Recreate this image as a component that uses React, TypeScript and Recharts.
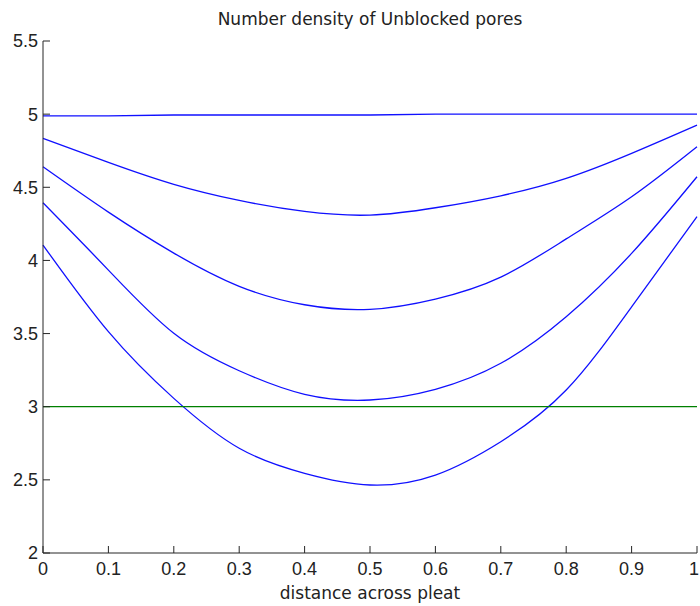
import React from 'react';
import { LineChart, Line, XAxis, YAxis } from 'recharts';

// distance across pleat
const distance = [0, 0.1, 0.2, 0.3, 0.4, 0.5, 0.6, 0.7, 0.8, 0.9, 1];

// number density of unblocked pores, one curve per time level
const level1 = [4.988, 4.988, 4.994, 4.994, 4.994, 4.994, 5.0, 5.0, 5.0, 5.0, 5.0];
const level2 = [4.835, 4.67, 4.52, 4.41, 4.335, 4.31, 4.36, 4.442, 4.561, 4.732, 4.925];
const level3 = [4.64, 4.33, 4.05, 3.823, 3.697, 3.666, 3.736, 3.886, 4.147, 4.435, 4.777];
const level4 = [4.394, 3.934, 3.502, 3.246, 3.085, 3.046, 3.119, 3.297, 3.615, 4.048, 4.572];
const level5 = [4.105, 3.513, 3.057, 2.716, 2.545, 2.465, 2.533, 2.761, 3.114, 3.683, 4.299];
const threshold = [3, 3, 3, 3, 3, 3, 3, 3, 3, 3, 3];

const xTicks = [0, 0.1, 0.2, 0.3, 0.4, 0.5, 0.6, 0.7, 0.8, 0.9, 1];
const yTicks = [2, 2.5, 3, 3.5, 4, 4.5, 5, 5.5];

const data = distance.map((x, i) => ({
  x,
  l1: level1[i],
  l2: level2[i],
  l3: level3[i],
  l4: level4[i],
  l5: level5[i],
  t: threshold[i],
}));

const AXIS = '#262626';
const BLUE = '#1010ff';
const tickFont = { fill: '#222', fontSize: 18, fontFamily: '"Liberation Sans", Arial, sans-serif' };
const textFont = '"DejaVu Sans", sans-serif';

// x tick label; the last one is nudged so it stays inside the page
const XTick = ({ x, y, payload }: any) => {
  const v = payload.value;
  const last = v === xTicks[xTicks.length - 1];
  return (
    <text x={last ? x - 3 : x} y={y} dy="0.71em" textAnchor="middle" {...tickFont}>
      {String(Number(Number(v).toFixed(1)))}
    </text>
  );
};

export default function App() {
  return (
    <div style={{ position: 'absolute', left: 0, top: 0, width: 700, height: 606, background: '#fff' }}>
      <LineChart width={700} height={606} data={data} margin={{ top: 41, right: 3, bottom: 0, left: 0 }}>
        <XAxis
          dataKey="x"
          type="number"
          domain={[0, 1]}
          ticks={xTicks}
          height={53}
          stroke={AXIS}
          tickSize={-7}
          tickMargin={16}
          tick={<XTick />}
          interval={0}
        />
        <YAxis
          type="number"
          domain={[2, 5.5]}
          ticks={yTicks}
          width={43}
          stroke={AXIS}
          tickSize={-7}
          tickMargin={12}
          tick={tickFont}
          interval={0}
        />
        <Line dataKey="l1" type="linear" stroke={BLUE} strokeWidth={1.3} dot={false} isAnimationActive={false} />
        <Line dataKey="l2" type="natural" stroke={BLUE} strokeWidth={1.3} dot={false} isAnimationActive={false} />
        <Line dataKey="l3" type="natural" stroke={BLUE} strokeWidth={1.3} dot={false} isAnimationActive={false} />
        <Line dataKey="l4" type="natural" stroke={BLUE} strokeWidth={1.3} dot={false} isAnimationActive={false} />
        <Line dataKey="l5" type="natural" stroke={BLUE} strokeWidth={1.3} dot={false} isAnimationActive={false} />
        <Line dataKey="t" type="linear" stroke="#008000" strokeWidth={1.3} dot={false} isAnimationActive={false} />
      </LineChart>
      <svg width={700} height={606} style={{ position: 'absolute', left: 0, top: 0, pointerEvents: 'none' }}>
        <text x={370} y={25} textAnchor="middle" fontSize={17} fontFamily={textFont} fill="#222">
          Number density of Unblocked pores
        </text>
        <text x={370} y={599} textAnchor="middle" fontSize={17} fontFamily={textFont} fill="#222">
          distance across pleat
        </text>
      </svg>
    </div>
  );
}
